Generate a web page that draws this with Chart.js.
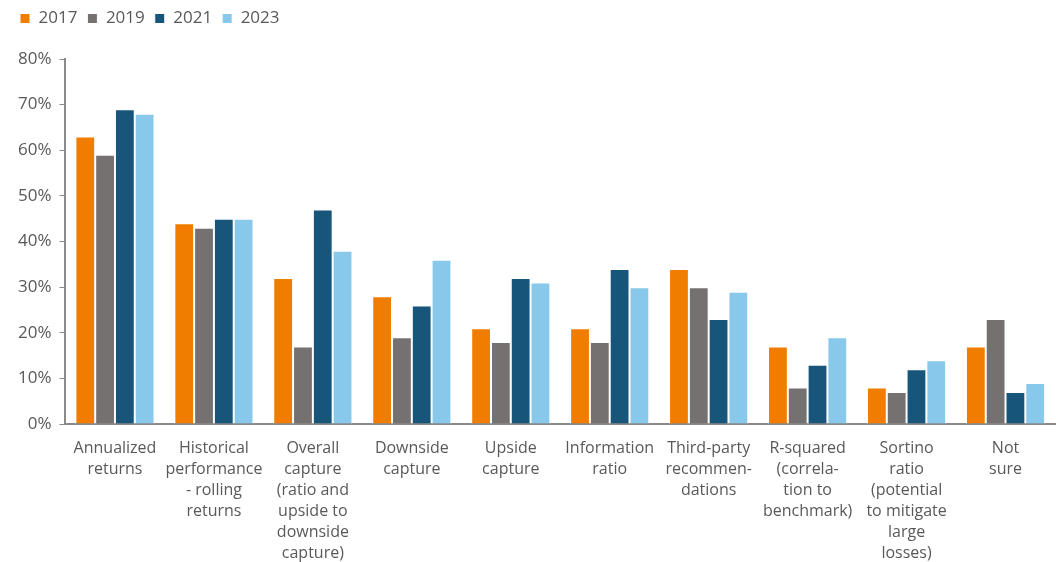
<!DOCTYPE html>
<html><head><meta charset="utf-8">
<script src="https://cdn.jsdelivr.net/npm/chart.js@4"></script>
<style>html,body{margin:0;padding:0;background:#fff}#wrap{width:1056px;height:562px}</style>
</head><body><div id="wrap"><canvas id="c"></canvas></div>
<script>
const categories = [
  ["Annualized","returns"],
  ["Historical","performance","- rolling","returns"],
  ["Overall","capture","(ratio and","upside to","downside","capture)"],
  ["Downside","capture"],
  ["Upside","capture"],
  ["Information","ratio"],
  ["Third-party","recommen-","dations"],
  ["R-squared","(correla-","tion to","benchmark)"],
  ["Sortino","ratio","(potential","to mitigate","large","losses)"],
  ["Not","sure"]
];
const seriesNames = ["2017","2019","2021","2023"];
const v2017 = [63,44,32,28,21,21,34,17,8,17];
const v2019 = [59,43,17,19,18,18,30,8,7,23];
const v2021 = [69,45,47,26,32,34,23,13,12,7];
const v2023 = [68,45,38,36,31,30,29,19,14,9];
const colors = ["#F07D00","#767171","#17557A","#88C8EA"];
const FONT = "'Open Sans'";
const txt = "#595959";
const legendMargin = {id:'legendMargin', beforeInit(chart){
  const orig = chart.legend.fit;
  chart.legend.fit = function(){ orig.call(this); this.height += 22; };
}};
new Chart(document.getElementById('c'), {
  type:'bar',
  data:{labels:categories, datasets:[v2017,v2019,v2021,v2023].map((d,i)=>({
    label:seriesNames[i], data:d, backgroundColor:colors[i], borderColor:'#ffffff', borderWidth:1,
    barPercentage:1, categoryPercentage:0.8
  }))},
  options:{
    responsive:true, maintainAspectRatio:false, animation:false,
    layout:{padding:{left:10,right:1,top:0,bottom:0}},
    plugins:{
      legend:{position:'top', align:'start', labels:{boxWidth:10, boxHeight:10, padding:10, color:txt, font:{family:FONT,size:17}}},
      tooltip:{enabled:false}
    },
    scales:{
      x:{grid:{display:false, drawTicks:false}, border:{color:'#8a8a8a', width:2},
         afterFit(scale){ scale.height = 138; },
         ticks:{color:txt, font:{family:FONT,size:16, lineHeight:1.3125}, padding:14, maxRotation:0, autoSkip:false}},
      y:{min:0,max:80, grid:{drawOnChartArea:false, drawTicks:true, tickLength:6, color:'#8a8a8a'}, border:{color:'#8a8a8a', width:2},
         ticks:{stepSize:10, color:txt, font:{family:FONT,size:17}, padding:8, callback:v=>v+'%'}}
    }
  },
  plugins:[legendMargin]
});
</script></body></html>
